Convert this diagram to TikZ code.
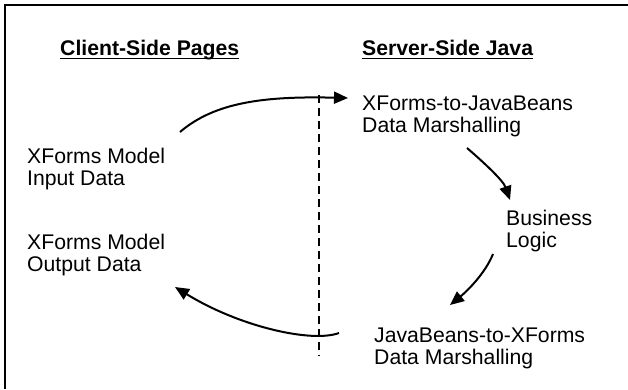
\documentclass[tikz,border=0pt]{standalone}
\usepackage{fontspec}
\setmainfont{Liberation Sans}
\usetikzlibrary{arrows.meta}
\begin{document}
\begin{tikzpicture}[x=1pt,y=-1pt,
  lbl/.style={anchor=base west, inner sep=0pt, align=left, font=\fontsize{21.2}{22.5}\selectfont},
  hdr/.style={anchor=base west, inner sep=0pt, font=\fontsize{21.2}{22.5}\selectfont\bfseries},
  uline/.style={line width=1.6pt},
  flow/.style={line width=2pt, -{Triangle[length=14pt,width=12pt]}},
  divider/.style={line width=1.5pt, dash pattern=on 8pt off 5pt},
  frame/.style={line width=2pt},
]
\useasboundingbox (0,0) rectangle (628,389);
\fill[white] (0,0) rectangle (628,389);
\draw[frame] (5,389) -- (5,5) -- (628,5);

\node[hdr] (ch) at (60,55) {Client-Side Pages};
\node[hdr] (sh) at (362,55) {Server-Side Java};
\draw[uline] ([yshift=-3.5pt]ch.base west) -- ([yshift=-3.5pt]ch.base east);
\draw[uline] ([yshift=-3.5pt]sh.base west) -- ([yshift=-3.5pt]sh.base east);

% base anchor = baseline of the last line
\node[lbl] (xi) at (27,185.5) {XForms Model\\Input Data};
\node[lbl] (xo) at (27,271.5) {XForms Model\\Output Data};
\node[lbl] (xj) at (362,132.5) {XForms-to-JavaBeans\\Data Marshalling};
\node[lbl] (bl) at (506,247.5) {Business\\Logic};
\node[lbl] (jx) at (374,364.5) {JavaBeans-to-XForms\\Data Marshalling};

\coordinate (dtop) at (319,95);
\coordinate (dbot) at (319,356);
\draw[divider] (dtop) -- (dbot);

\coordinate (a1s) at (180,132);
\coordinate (a1e) at (348,98);
\coordinate (a2s) at (467,148);
\coordinate (a2e) at (510,200);
\coordinate (a3s) at (493,254);
\coordinate (a3e) at (450,305);
\coordinate (a4s) at (339,333);
\coordinate (a4e) at (175,287);

\draw[flow] (a1s) .. controls (215,102) and (265,96) .. (a1e);
\draw[flow] (a2s) .. controls (481,160) and (503,180) .. (a2e);
\draw[flow] (a3s) .. controls (485,274) and (466,292) .. (a3e);
\draw[flow] (a4s) .. controls (312,343) and (240,327) .. (a4e);
\end{tikzpicture}
\end{document}
